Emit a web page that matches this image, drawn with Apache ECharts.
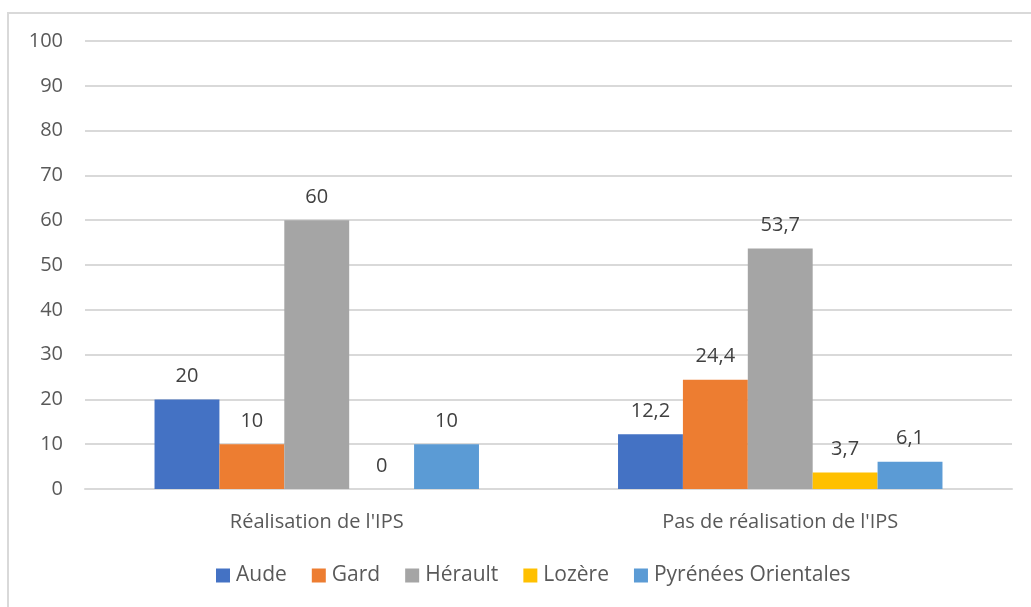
<!DOCTYPE html>
<html><head><meta charset="utf-8">
<script src="https://cdn.jsdelivr.net/npm/echarts@6/dist/echarts.min.js"></script>
<style>html,body{margin:0;padding:0;background:#fff}#c{width:1031px;height:607px}</style>
</head><body><div id="c"></div>
<script>
const categories = ["Réalisation de l'IPS", "Pas de réalisation de l'IPS"];
const seriesNames = ["Aude", "Gard", "Hérault", "Lozère", "Pyrénées Orientales"];
const aude = [20, 12.2];
const gard = [10, 24.4];
const herault = [60, 53.7];
const lozere = [0, 3.7];
const pyrenees = [10, 6.1];
const yTicks = [0, 10, 20, 30, 40, 50, 60, 70, 80, 90, 100];
const colors = ["#4472C4", "#ED7D31", "#A5A5A5", "#FFC000", "#5B9BD5"];
const values = [aude, gard, herault, lozere, pyrenees];
const font = "'Open Sans', 'Noto Sans', sans-serif";

const chart = echarts.init(document.getElementById('c'));
chart.setOption({
  animation: false,
  textStyle: { fontFamily: font },
  graphic: [{
    type: 'rect', shape: { x: 8, y: 13, width: 1100, height: 700 },
    style: { fill: 'none', stroke: '#d9d9d9', lineWidth: 2 }, silent: true, z: -1
  }],
  grid: { left: 85, right: 19, top: 41, bottom: 118 },
  legend: {
    left: 211, bottom: 16, itemWidth: 14, itemHeight: 14, itemGap: 25, icon: 'rect',
    textStyle: { fontFamily: font, fontSize: 21, color: '#595959', padding: [0, 0, 0, 1] },
    data: seriesNames
  },
  xAxis: {
    type: 'category', data: categories,
    axisLine: { lineStyle: { color: '#d9d9d9', width: 2 } },
    axisTick: { show: false },
    axisLabel: { fontFamily: font, fontSize: 20, color: '#595959', margin: 23 }
  },
  yAxis: {
    type: 'value', min: yTicks[0], max: yTicks[yTicks.length - 1], interval: 10,
    axisLine: { show: false }, axisTick: { show: false },
    splitLine: { lineStyle: { color: '#d9d9d9', width: 2 } },
    axisLabel: { fontFamily: font, fontSize: 20, color: '#595959', margin: 22 }
  },
  series: seriesNames.map((n, i) => ({
    name: n, type: 'bar', data: values[i], barGap: '0%', barCategoryGap: '30%',
    itemStyle: { color: colors[i] },
    label: {
      show: true, position: 'top', distance: 13, fontFamily: font, fontSize: 20, color: '#404040',
      formatter: p => String(p.value).replace('.', ',')
    }
  }))
});
</script></body></html>
